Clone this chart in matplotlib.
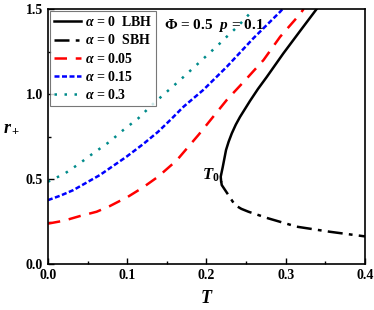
import matplotlib
matplotlib.use('Agg')
import matplotlib.pyplot as plt

plt.rcParams['font.family'] = 'Liberation Serif'
plt.rcParams['font.weight'] = 'bold'
plt.rcParams['mathtext.fontset'] = 'custom'
plt.rcParams['mathtext.rm'] = 'Liberation Serif:bold'
plt.rcParams['mathtext.it'] = 'Liberation Serif:italic:bold'
plt.rcParams['mathtext.bf'] = 'Liberation Serif:bold'

# alpha = 0, large black hole branch (T, r+)
lbh_T = [0.2185, 0.218, 0.2206, 0.2247, 0.228, 0.232, 0.237, 0.2424, 0.255, 0.265,
         0.276, 0.297, 0.318, 0.339]
lbh_r = [0.488, 0.514, 0.572, 0.671, 0.72, 0.769, 0.82, 0.866, 0.96, 1.03,
         1.10, 1.239, 1.37, 1.5]

# alpha = 0, small black hole branch
sbh_T = [0.2185, 0.2193, 0.2277, 0.236, 0.244, 0.253, 0.278, 0.314, 0.356, 0.40]
sbh_r = [0.488, 0.465, 0.406, 0.347, 0.325, 0.308, 0.269, 0.22, 0.19, 0.163]

a005_T = [0, 0.02, 0.040, 0.0615, 0.078, 0.101, 0.120, 0.139, 0.1625, 0.19, 0.2256,
          0.249, 0.272, 0.293, 0.318, 0.3225]
a005_r = [0.238, 0.255, 0.282, 0.308, 0.341, 0.396, 0.451, 0.514, 0.61, 0.76, 0.965,
          1.082, 1.2, 1.337, 1.47, 1.5]

a015_T = [0, 0.016, 0.032, 0.0657, 0.099, 0.12, 0.139, 0.155, 0.171, 0.196, 0.2256,
          0.259, 0.293, 0.296]
a015_r = [0.376, 0.403, 0.435, 0.524, 0.631, 0.705, 0.778, 0.85, 0.925, 1.024, 1.16,
          1.327, 1.484, 1.5]

a03_T = [0, 0.0215, 0.040, 0.057, 0.078, 0.095, 0.114, 0.131, 0.1667, 0.192, 0.217,
         0.2256, 0.24, 0.26]
a03_r = [0.484, 0.533, 0.592, 0.651, 0.72, 0.788, 0.857, 0.935, 1.082, 1.19, 1.298,
         1.337, 1.40, 1.5]

fig = plt.figure(figsize=(3.74, 3.10), dpi=100)
ax = fig.add_axes([0.128, 0.148, 0.848, 0.823])

ax.plot(lbh_T, lbh_r, color='black', lw=1.8, ls='-', label=r'$\alpha$ = 0  LBH')
ax.plot(sbh_T, sbh_r, color='black', lw=1.8, ls=(0, (6, 2.5, 1.5, 2.5)), label=r'$\alpha$ = 0  SBH')
ax.plot(a005_T, a005_r, color='red', lw=1.8, ls=(0, (5, 3.5)), label=r'$\alpha$ = 0.05')
ax.plot(a015_T, a015_r, color='blue', lw=1.8, ls=(0, (2, 1)), label=r'$\alpha$ = 0.15')
ax.plot(a03_T, a03_r, color='#008b8b', lw=1.8, ls=(0, (1, 3)), label=r'$\alpha$ = 0.3')

ax.set_xlim(0, 0.4)
ax.set_ylim(0, 1.5)
ax.set_xticks([0.0, 0.1, 0.2, 0.3, 0.4])
ax.set_yticks([0.0, 0.5, 1.0, 1.5])
ax.set_xticks([0.05, 0.15, 0.25, 0.35], minor=True)
ax.set_yticks([0.25, 0.75, 1.25], minor=True)
ax.tick_params(which='both', direction='in', top=False, right=False, labelsize=10)
ax.tick_params(which='major', length=4, width=1)
ax.tick_params(which='minor', length=2.5, width=1)
for s in ax.spines.values():
    s.set_linewidth(1.2)

ax.set_xlabel(r'$T$', fontsize=13, labelpad=6)
ax.set_ylabel(r'$r_+$', fontsize=13, rotation=0, labelpad=10)

ax.text(0.147, 1.405, r'$\Phi$ = 0.5  $p$ = 0.1', fontsize=11, va='center')
ax.text(0.195, 0.495, r'$T_0$', fontsize=12, va='baseline')

leg = ax.legend(loc='upper left', fontsize=10, handlelength=1.9, frameon=True, fancybox=False,
                borderaxespad=0.15, labelspacing=0.3, handletextpad=0.3, borderpad=0.3)
leg.get_frame().set_edgecolor('#555555')
leg.get_frame().set_linewidth(0.8)

fig.savefig('out.png', dpi=100)
